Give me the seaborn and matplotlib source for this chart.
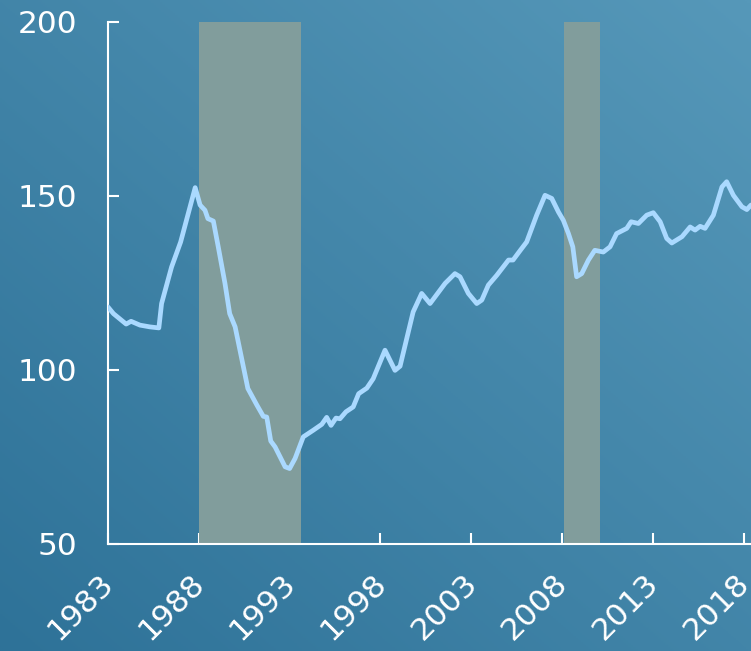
import numpy as np
import pandas as pd
import seaborn as sns
import matplotlib.pyplot as plt
import matplotlib.transforms as mtransforms
from matplotlib.colors import LinearSegmentedColormap

# Datos
anios = [1983.0, 1983.3, 1984.0, 1984.27, 1984.76, 1985.3, 1985.8, 1985.95, 1986.5, 1987.0,
         1987.8, 1988.07, 1988.34, 1988.5, 1988.8, 1989.07, 1989.44, 1989.7, 1990.0, 1990.7,
         1991.2, 1991.55, 1991.74, 1991.96, 1992.2, 1992.75, 1993.0, 1993.3, 1993.75, 1994.3,
         1994.77, 1995.04, 1995.28, 1995.55, 1995.77, 1996.1, 1996.5, 1996.8, 1997.25, 1997.6,
         1998.25, 1998.8, 1999.08, 1999.8, 2000.27, 2000.73, 2001.56, 2002.1, 2002.38, 2002.84,
         2003.3, 2003.58, 2003.94, 2004.4, 2005.05, 2005.3, 2005.7, 2006.05, 2006.6, 2007.06,
         2007.43, 2007.8, 2008.07, 2008.35, 2008.59, 2008.8, 2009.08, 2009.45, 2009.8, 2010.27,
         2010.64, 2011.0, 2011.56, 2011.8, 2012.2, 2012.66, 2013.02, 2013.4, 2013.76, 2014.04,
         2014.6, 2015.05, 2015.32, 2015.6, 2015.87, 2016.33, 2016.8, 2017.06, 2017.43, 2017.9,
         2018.17, 2018.4]
valores = [118.0, 116.1, 113.1, 113.9, 112.8, 112.3, 112.0, 119.0, 129.5, 136.7,
           152.3, 147.3, 145.8, 143.4, 142.7, 135.3, 124.8, 116.1, 112.3, 94.6,
           89.8, 86.6, 86.4, 79.5, 77.8, 72.1, 71.6, 74.5, 80.7, 82.6,
           84.3, 86.3, 84.0, 86.1, 85.9, 87.9, 89.3, 93.1, 94.7, 97.4,
           105.6, 99.8, 101.0, 116.6, 121.9, 119.0, 124.8, 127.6, 126.7, 121.9,
           119.0, 120.0, 124.3, 127.1, 131.5, 131.5, 134.3, 136.7, 144.4, 150.1,
           149.2, 145.3, 142.9, 139.1, 135.3, 126.7, 127.6, 131.5, 134.3, 133.8,
           135.3, 139.1, 140.6, 142.5, 142.0, 144.4, 145.1, 142.5, 137.7, 136.4,
           138.2, 141.0, 140.1, 141.2, 140.6, 144.4, 152.5, 154.0, 150.1, 146.8,
           146.0, 147.3]

# Periodos sombreados
sombra_inicio = [1988.0, 2008.1]
sombra_fin = [1993.6, 2010.1]

ticks_x = [1983, 1988, 1993, 1998, 2003, 2008, 2013, 2018]
ticks_y = [50, 100, 150, 200]

df = pd.DataFrame({'anio': anios, 'valor': valores})

sns.set_style('ticks')
plt.rcParams['font.family'] = ['DejaVu Sans']

fig = plt.figure(figsize=(7.51, 6.51), dpi=100)

# Fondo con degradado
fondo = fig.add_axes([0, 0, 1, 1], zorder=-10)
cmap = LinearSegmentedColormap.from_list('fondo', ['#2e7298', '#5698b9'])
xx, yy = np.meshgrid(np.linspace(0, 1, 300), np.linspace(0, 1, 300))
fondo.imshow((xx + yy) / 2, cmap=cmap, origin='lower', aspect='auto',
             extent=[0, 1, 0, 1], vmin=0, vmax=1)
fondo.axis('off')

ax = fig.add_axes([0.1438, 0.1648, 0.8562, 0.802])
ax.patch.set_alpha(0)

for ini, fin in zip(sombra_inicio, sombra_fin):
    ax.axvspan(ini, fin, color='#819d9c', lw=0, zorder=1)

sns.lineplot(data=df, x='anio', y='valor', ax=ax, color='#aad9ff', linewidth=3.4, zorder=3)

ax.set_xlim(1983, 2018.4)
ax.set_ylim(50, 200)
ax.set_xticks(ticks_x)
ax.set_yticks(ticks_y)
ax.set_xlabel('')
ax.set_ylabel('')

for lado in ['top', 'right']:
    ax.spines[lado].set_visible(False)
for lado in ['left', 'bottom']:
    ax.spines[lado].set_color('white')
    ax.spines[lado].set_linewidth(1.5)

ax.tick_params(axis='both', direction='in', length=8, width=1.5, colors='white',
               labelsize=22.5, labelcolor='white')
ax.tick_params(axis='y', pad=22)
ax.tick_params(axis='x', pad=18)
desplaza = mtransforms.ScaledTranslation(-0.09, 0, fig.dpi_scale_trans)
for lbl in ax.get_xticklabels():
    lbl.set_rotation(45)
    lbl.set_ha('right')
    lbl.set_rotation_mode('anchor')
    lbl.set_transform(lbl.get_transform() + desplaza)

fig.savefig('out.png', dpi=100)
